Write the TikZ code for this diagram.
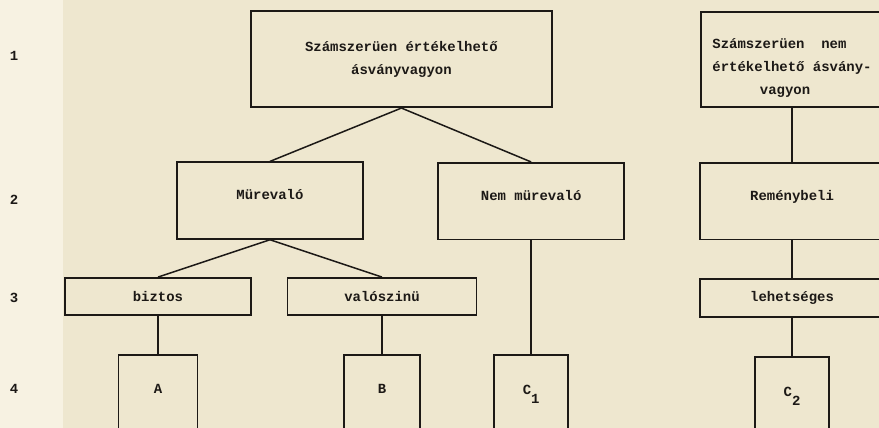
\documentclass[tikz,border=0pt]{standalone}
\usepackage{fontspec}
\setmonofont{Liberation Mono}

\definecolor{paper}{RGB}{238,231,207}
\definecolor{margin}{RGB}{247,242,226}
\definecolor{ink}{RGB}{28,25,22}

\begin{document}
\begin{tikzpicture}[scale=1.0,
    box/.style={draw=ink, line width=1.8pt, rectangle, inner sep=2pt, align=center, text=ink,
        font=\ttfamily\bfseries\fontsize{13.9}{23}\selectfont},
    midbox/.style={box, minimum height=2.68cm, text depth=12pt},
    rowbox/.style={box, minimum height=1.3cm},
    leaf/.style={box, anchor=north, minimum height=2.73cm, text depth=9pt},
    link/.style={draw=ink, line width=1.5pt},
    rowno/.style={text=ink, font=\ttfamily\bfseries\fontsize{13.9}{16}\selectfont}]
    \fill[paper] (0,0) rectangle (30.765,-14.98);
    \fill[margin] (0,0) rectangle (2.2,-14.98);
    \useasboundingbox (0,0) rectangle (30.765,-14.98);
    \clip (0,0) rectangle (30.765,-14.98);
    % row numbers
    \node[rowno] (r1) at (0.49,-1.96) {1};
    \node[rowno] (r2) at (0.49,-7.0) {2};
    \node[rowno] (r3) at (0.49,-10.43) {3};
    \node[rowno] (r4) at (0.49,-13.62) {4};
    % level 1
    \node[box, minimum width=10.54cm, minimum height=3.36cm] (sz) at (14.05,-2.07) {Számszerüen értékelhető\\ásványvagyon};
    \node[box, minimum width=6.37cm, minimum height=3.33cm, align=left] (szn) at (27.72,-2.08) {\rule{0pt}{27pt}Számszerüen~~nem\\értékelhető ásvány-\\\hspace*{3.4em}vagyon};
    % level 2
    \node[midbox, minimum width=6.51cm] (mr) at (9.45,-7.02) {Mürevaló};
    \node[midbox, minimum width=6.51cm] (nmr) at (18.59,-7.04) {Nem mürevaló};
    \node[midbox, minimum width=6.44cm] (rb) at (27.72,-7.04) {Reménybeli};
    % level 3
    \node[rowbox, minimum width=6.51cm] (bz) at (5.53,-10.38) {biztos};
    \node[rowbox, minimum width=6.62cm] (vl) at (13.37,-10.38) {valószinü};
    \node[rowbox, minimum width=6.44cm, minimum height=1.33cm] (lh) at (27.72,-10.43) {lehetséges};
    % level 4
    \node[leaf, minimum width=2.77cm] (a) at (5.53,-12.39) {A};
    \node[leaf, minimum width=2.66cm] (b) at (13.37,-12.39) {B};
    \node[leaf, minimum width=2.59cm] (c1) at (18.59,-12.39) {C\raisebox{-9pt}{1}};
    \node[leaf, minimum width=2.59cm] (c2) at (27.72,-12.46) {C\raisebox{-9pt}{2}};
    \draw[link] (sz.south) -- (mr.north);
    \draw[link] (sz.south) -- (nmr.north);
    \draw[link] (mr.south) -- (bz.north);
    \draw[link] (mr.south) -- (vl.north);
    \draw[link] (bz) -- (a);
    \draw[link] (vl) -- (b);
    \draw[link] (nmr) -- (c1);
    \draw[link] (szn) -- (rb);
    \draw[link] (rb) -- (lh);
    \draw[link] (lh) -- (c2);
\end{tikzpicture}
\end{document}
